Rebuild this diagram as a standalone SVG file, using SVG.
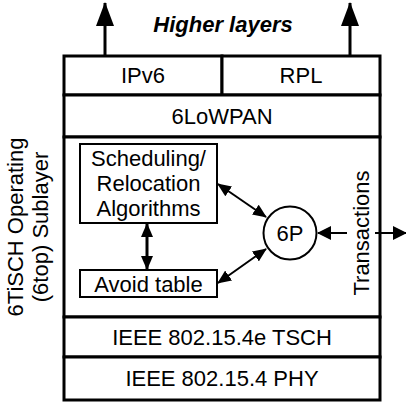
<svg xmlns="http://www.w3.org/2000/svg" width="406" height="404" viewBox="0 0 406 404">
<style>
text{font-family:"Liberation Sans",Arial,sans-serif;font-size:22px;fill:#000;text-anchor:middle}
.layer{fill:#fff;stroke:#000;stroke-width:3}
.box{fill:#fff;stroke:#000;stroke-width:2}
.conn{stroke:#000;fill:none}
</style>
<defs>
<marker id="ah" viewBox="0 0 14 12" refX="13" refY="6" markerWidth="14" markerHeight="12" markerUnits="userSpaceOnUse" orient="auto-start-reverse"><path d="M0,0 L14,6 L0,12 z"/></marker>
<marker id="ah2" viewBox="0 0 14 14" refX="13" refY="7" markerWidth="14" markerHeight="14" markerUnits="userSpaceOnUse" orient="auto-start-reverse"><path d="M0,0 L14,7 L0,14 z"/></marker>
<marker id="up" viewBox="0 0 24 18" refX="23" refY="9" markerWidth="24" markerHeight="18" markerUnits="userSpaceOnUse" orient="auto"><path d="M0,0 L24,9 L0,18 z"/></marker>
</defs>
<text id="higher" x="223" y="32" style="font-weight:bold;font-style:italic">Higher layers</text>
<g id="ipv6"><rect class="layer" x="64" y="56" width="158" height="39"/><text x="143" y="83">IPv6</text></g>
<g id="rpl"><rect class="layer" x="222" y="56" width="158" height="39"/><text x="301" y="83">RPL</text></g>
<g id="sixlowpan"><rect class="layer" x="64" y="95" width="316" height="42"/><text x="222" y="124">6LoWPAN</text></g>
<g id="sixtop"><rect class="layer" x="64" y="137" width="316" height="180"/>
<text transform="translate(23,227) rotate(-90)">6TiSCH Operating</text>
<text transform="translate(48,227) rotate(-90)">(6top) Sublayer</text>
<text transform="translate(369,233) rotate(-90)">Transactions</text></g>
<g id="sched"><rect class="box" x="80" y="144" width="137" height="79"/>
<text x="148.5" y="166">Scheduling/</text><text x="148.5" y="191">Relocation</text><text x="148.5" y="216">Algorithms</text></g>
<g id="avoid"><rect class="box" x="80" y="270" width="137" height="27"/><text x="148.5" y="292">Avoid table</text></g>
<g id="sixp"><circle cx="290" cy="233" r="26.5" fill="#fff" stroke="#000" stroke-width="2"/><text x="290" y="241">6P</text></g>
<g id="tsch"><rect class="layer" x="64" y="317" width="316" height="40"/><text x="222" y="345">IEEE 802.15.4e TSCH</text></g>
<g id="phy"><rect class="layer" x="64" y="357" width="316" height="43"/><text x="222" y="386">IEEE 802.15.4 PHY</text></g>
<g id="connectors">
<line class="conn" stroke-width="3" x1="105" y1="56" x2="105" y2="3" marker-end="url(#up)"/>
<line class="conn" stroke-width="3" x1="350" y1="56" x2="350" y2="3" marker-end="url(#up)"/>
<line class="conn" stroke-width="3" x1="147" y1="224" x2="147" y2="269" marker-start="url(#ah)" marker-end="url(#ah)"/>
<line class="conn" stroke-width="2" x1="218" y1="184" x2="266" y2="217" marker-start="url(#ah)" marker-end="url(#ah)"/>
<line class="conn" stroke-width="2" x1="218" y1="283" x2="266" y2="249" marker-start="url(#ah)" marker-end="url(#ah)"/>
<line class="conn" stroke-width="2" x1="347" y1="233" x2="318" y2="233" marker-end="url(#ah2)"/>
<line class="conn" stroke-width="2" x1="375" y1="233" x2="406" y2="233" marker-end="url(#ah2)"/>
</g>
</svg>
